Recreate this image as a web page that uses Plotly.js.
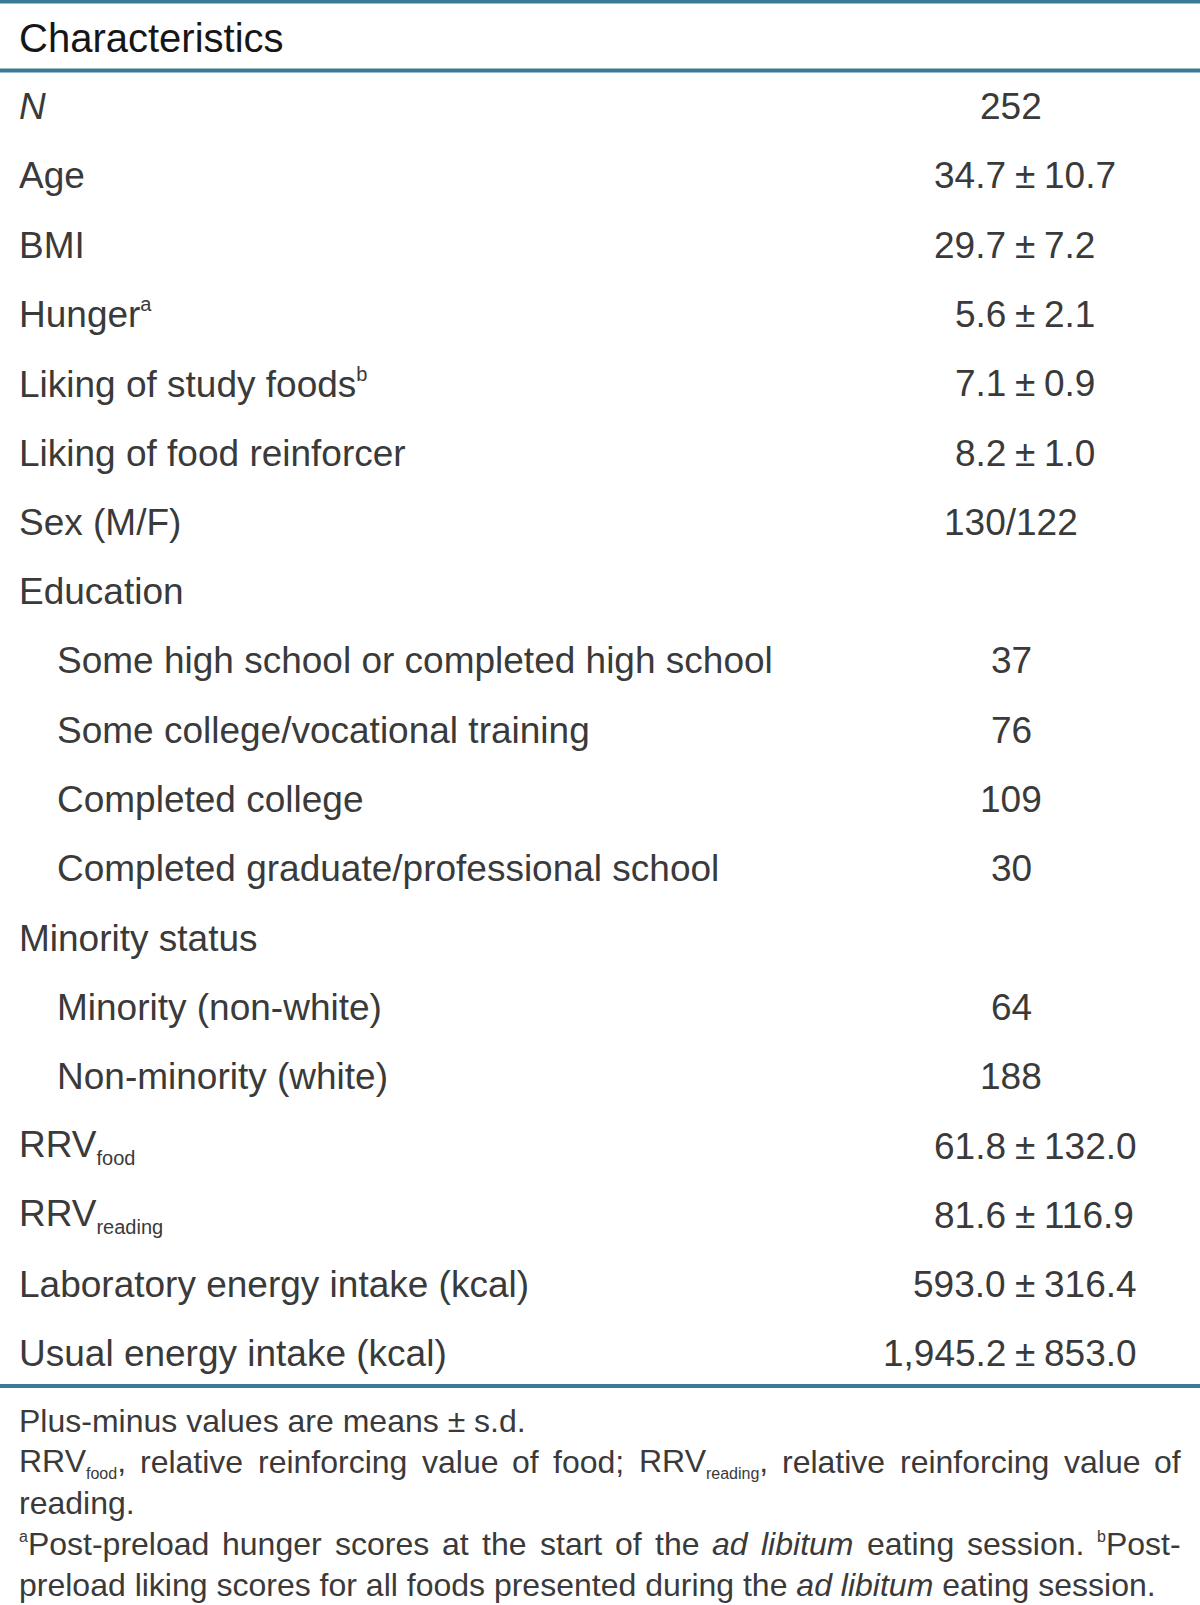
<!DOCTYPE html>
<html>
<head>
<meta charset="utf-8">
<script src="https://cdn.plot.ly/plotly-3.0.1.min.js"></script>
<style>html,body{margin:0;padding:0;background:#fff;}#chart{width:1200px;height:1605px;}</style>
</head>
<body>
<div id="chart"></div>
<script>
// ---- data ----
const headerLabel = 'Characteristics';
const rowLabels = [
  '<i>N</i>', 'Age', 'BMI', 'Hunger<sup>a</sup>', 'Liking of study foods<sup>b</sup>',
  'Liking of food reinforcer', 'Sex (M/F)', 'Education',
  'Some high school or completed high school', 'Some college/vocational training',
  'Completed college', 'Completed graduate/professional school',
  'Minority status', 'Minority (non-white)', 'Non-minority (white)',
  'RRV<sub>food</sub>', 'RRV<sub>reading</sub>',
  'Laboratory energy intake (kcal)', 'Usual energy intake (kcal)'
];
const rowIndent = [0,0,0,0,0,0,0,0,1,1,1,1,0,1,1,0,0,0,0];
const meanValues = [null, 34.7, 29.7, 5.6, 7.1, 8.2, null, null, null, null, null, null, null, null, null, 61.8, 81.6, 593.0, 1945.2];
const sdValues   = [null, 10.7, 7.2, 2.1, 0.9, 1.0, null, null, null, null, null, null, null, null, null, 132.0, 116.9, 316.4, 853.0];
const countValues = ['252', null, null, null, null, null, '130/122', null, '37', '76', '109', '30', null, '64', '188', null, null, null, null];
const footLines = [
  'Plus-minus values are means \u00b1 s.d.',
  'RRV<sub>food</sub>, relative reinforcing value of food; RRV<sub>reading</sub>, relative reinforcing value of',
  'reading.',
  '<sup>a</sup>Post-preload hunger scores at the start of the <i>ad</i> <i>libitum</i> eating session. <sup>b</sup>Post-',
  'preload liking scores for all foods presented during the <i>ad libitum</i> eating session.'
];
const footJustify = [false, true, false, true, false];

// ---- layout helpers ----
const W = 1200, H = 1605;
const FONT = '"Liberation Sans", Arial, Helvetica, sans-serif';
const rowStart = 106.5, rowStep = 69.3;
const headerY = 38;
const footStart = 1421, footStep = 41;
const xLabel = 19, xIndent = 57, xPM = 1025, xCount = 1011, pmGap = 19;
const footLeftX = 19, footRightX = 1181;
const BODY = 37, FOOT = 32, SUPB = 20, SUPF = 16;
const bodyColor = '#3a3a3a';
const lineColor = '#3a7a96';

function fmt(v) {
  return v.toLocaleString('en-US', {minimumFractionDigits: 1, maximumFractionDigits: 1});
}
// shrink super/subscript glyphs to look like the typeset original
function small(t, px) {
  return t.replace(/<(sup|sub)>(.*?)<\/\1>/g, (m, tag, inner) => '<' + tag + '><span style="font-size:' + px + 'px">' + inner + '</span></' + tag + '>');
}
const ctx = document.createElement('canvas').getContext('2d');
function measure(tok, size, supSize) {
  let w = 0;
  const re = /<(sub|sup|i)>(.*?)<\/\1>|([^<]+)/g;
  let m;
  while ((m = re.exec(tok)) !== null) {
    if (m[1] === 'sub' || m[1] === 'sup') { ctx.font = supSize + 'px ' + FONT; w += ctx.measureText(m[2]).width; }
    else if (m[1] === 'i') { ctx.font = 'italic ' + size + 'px ' + FONT; w += ctx.measureText(m[2]).width; }
    else { ctx.font = size + 'px ' + FONT; w += ctx.measureText(m[3]).width; }
  }
  return w;
}

const ann = [];
const base = {showarrow: false, borderpad: 0, borderwidth: 0, yanchor: 'middle'};
const bodyFont = {family: FONT, size: BODY, color: bodyColor};
ann.push(Object.assign({x: xLabel, y: headerY, text: headerLabel, xanchor: 'left',
  font: {family: FONT, size: 40, color: '#161616'}}, base));

rowLabels.forEach((lab, i) => {
  const y = rowStart + i * rowStep;
  ann.push(Object.assign({x: rowIndent[i] ? xIndent : xLabel, y: y, text: small(lab, SUPB), xanchor: 'left', font: bodyFont}, base));
  if (meanValues[i] !== null) {
    ann.push(Object.assign({x: xPM - pmGap, y: y, text: fmt(meanValues[i]), xanchor: 'right', font: bodyFont}, base));
    ann.push(Object.assign({x: xPM, y: y, text: '\u00b1', xanchor: 'center', font: bodyFont}, base));
    ann.push(Object.assign({x: xPM + pmGap, y: y, text: fmt(sdValues[i]), xanchor: 'left', font: bodyFont}, base));
  }
  if (countValues[i] !== null) {
    ann.push(Object.assign({x: xCount, y: y, text: countValues[i], xanchor: 'center', font: bodyFont}, base));
  }
});

const footFont = {family: FONT, size: FOOT, color: bodyColor};
footLines.forEach((line, i) => {
  const y = footStart + i * footStep;
  if (!footJustify[i]) {
    ann.push(Object.assign({x: footLeftX, y: y, text: small(line, SUPF), xanchor: 'left', font: footFont}, base));
    return;
  }
  const words = line.split(' ');
  const widths = words.map(w => measure(w, FOOT, SUPF));
  const total = widths.reduce((a, b) => a + b, 0);
  const gap = (footRightX - footLeftX - total) / (words.length - 1);
  let x = footLeftX;
  words.forEach((w, k) => {
    ann.push(Object.assign({x: x, y: y, text: small(w, SUPF), xanchor: 'left', font: footFont}, base));
    x += widths[k] + gap;
  });
});

const lineYs = [1.5, 70.5, 1386];
const shapes = lineYs.map(y => ({type: 'line', xref: 'x', yref: 'y', x0: 0, x1: W, y0: y, y1: y,
  line: {color: lineColor, width: 4}}));

const layout = {
  width: W, height: H,
  margin: {l: 0, r: 0, t: 0, b: 0, pad: 0},
  paper_bgcolor: '#ffffff', plot_bgcolor: '#ffffff',
  xaxis: {range: [0, W], visible: false, fixedrange: true},
  yaxis: {range: [H, 0], visible: false, fixedrange: true},
  showlegend: false,
  annotations: ann,
  shapes: shapes
};

Plotly.newPlot('chart', [{x: [0], y: [0], mode: 'markers', marker: {opacity: 0}, hoverinfo: 'skip'}], layout, {staticPlot: true});
</script>
</body>
</html>
